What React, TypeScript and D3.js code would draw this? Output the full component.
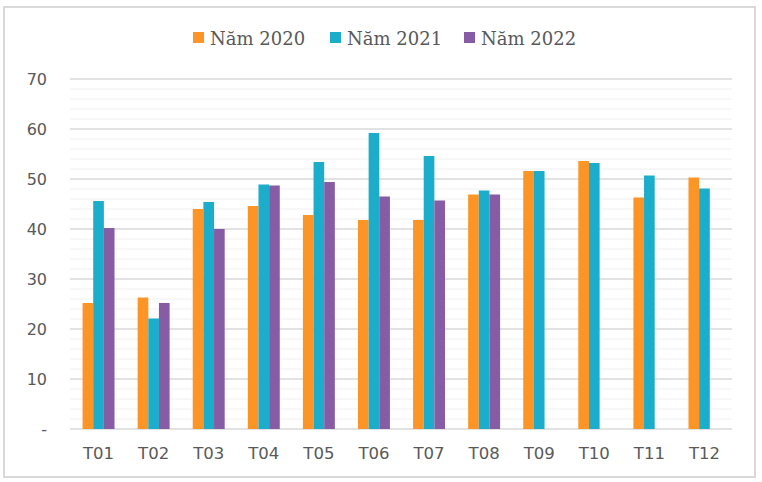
import React, { useRef, useEffect } from 'react';
import * as d3 from 'd3';

const months = ['T01', 'T02', 'T03', 'T04', 'T05', 'T06', 'T07', 'T08', 'T09', 'T10', 'T11', 'T12'];
const seriesNames = ['Năm 2020', 'Năm 2021', 'Năm 2022'];
const values2020 = [25.2, 26.3, 44.0, 44.6, 42.8, 41.8, 41.8, 46.9, 51.6, 53.6, 46.3, 50.3];
const values2021 = [45.6, 22.1, 45.4, 48.9, 53.4, 59.2, 54.6, 47.7, 51.6, 53.2, 50.7, 48.1];
const values2022 = [40.2, 25.2, 40.0, 48.7, 49.4, 46.5, 45.7, 46.9, null, null, null, null];
const yTicks = [0, 10, 20, 30, 40, 50, 60, 70];

const colors = ['#FD9426', '#1BADC9', '#865DA5'];

const App: React.FC = () => {
  const ref = useRef<SVGSVGElement>(null);

  useEffect(() => {
    const W = 762;
    const H = 482;
    const margin = { top: 79, right: 30, bottom: 53, left: 71 };
    const width = W - margin.left - margin.right;
    const height = H - margin.top - margin.bottom;

    const root = d3.select(ref.current);
    root.selectAll('*').remove();
    root.attr('width', W).attr('height', H);

    // chart border
    root.append('rect')
      .attr('x', 4).attr('y', 7)
      .attr('width', 751).attr('height', 470)
      .attr('fill', '#fff')
      .attr('stroke', '#d9d9d9')
      .attr('stroke-width', 2);

    const svg = root.append('g')
      .attr('transform', `translate(${margin.left},${margin.top})`);

    const x = d3.scaleBand().domain(months).range([0, width]).paddingInner(0.42).paddingOuter(0.21);
    const xs = d3.scaleBand().domain(seriesNames).range([0, x.bandwidth()]);
    const y = d3.scaleLinear().domain([0, 70]).range([height, 0]);

    // minor gridlines
    svg.append('g')
      .selectAll('line')
      .data(d3.range(2, 70, 2).filter(v => v % 10 !== 0))
      .join('line')
      .attr('x1', -1).attr('x2', width)
      .attr('y1', d => y(d)).attr('y2', d => y(d))
      .attr('stroke', '#f0f0f0')
      .attr('stroke-width', 1);

    // major gridlines
    svg.append('g')
      .selectAll('line')
      .data(yTicks)
      .join('line')
      .attr('x1', -1).attr('x2', width)
      .attr('y1', d => y(d)).attr('y2', d => y(d))
      .attr('stroke', '#d9d9d9')
      .attr('stroke-width', 1.3);

    // y labels
    svg.append('g')
      .selectAll('text')
      .data(yTicks)
      .join('text')
      .attr('x', -24)
      .attr('y', d => y(d))
      .attr('text-anchor', 'end')
      .attr('dominant-baseline', 'central')
      .attr('fill', '#595959')
      .attr('font-family', '"DejaVu Sans", sans-serif')
      .attr('font-size', '16px')
      .text(d => (d === 0 ? '-' : String(d)));

    // x labels
    svg.append('g')
      .selectAll('text')
      .data(months)
      .join('text')
      .attr('x', d => x(d)! + x.bandwidth() / 2)
      .attr('y', height + 24)
      .attr('text-anchor', 'middle')
      .attr('dominant-baseline', 'central')
      .attr('fill', '#595959')
      .attr('font-family', '"DejaVu Sans", sans-serif')
      .attr('font-size', '16.5px')
      .text(d => d);

    const allSeries = [values2020, values2021, values2022];
    allSeries.forEach((vals, i) => {
      svg.append('g')
        .selectAll('rect')
        .data(months.map((m, j) => ({ m, v: vals[j] })).filter(d => d.v != null))
        .join('rect')
        .attr('x', d => x(d.m)! + xs(seriesNames[i])!)
        .attr('y', d => y(d.v as number))
        .attr('width', xs.bandwidth())
        .attr('height', d => height - y(d.v as number))
        .attr('fill', colors[i]);
    });

    // legend
    const legendX = [193, 330, 464];
    const legend = root.append('g');
    seriesNames.forEach((name, i) => {
      legend.append('rect')
        .attr('x', legendX[i]).attr('y', 32)
        .attr('width', 11).attr('height', 11)
        .attr('fill', colors[i]);
      legend.append('text')
        .attr('x', legendX[i] + 17)
        .attr('y', 38)
        .attr('dominant-baseline', 'central')
        .attr('fill', '#595959')
        .attr('font-family', '"DejaVu Serif", serif')
        .attr('font-size', '18px')
        .text(name);
    });
  }, []);

  return (
    <svg ref={ref} style={{ position: 'absolute', left: 0, top: 0 }}></svg>
  );
};

export default App;
